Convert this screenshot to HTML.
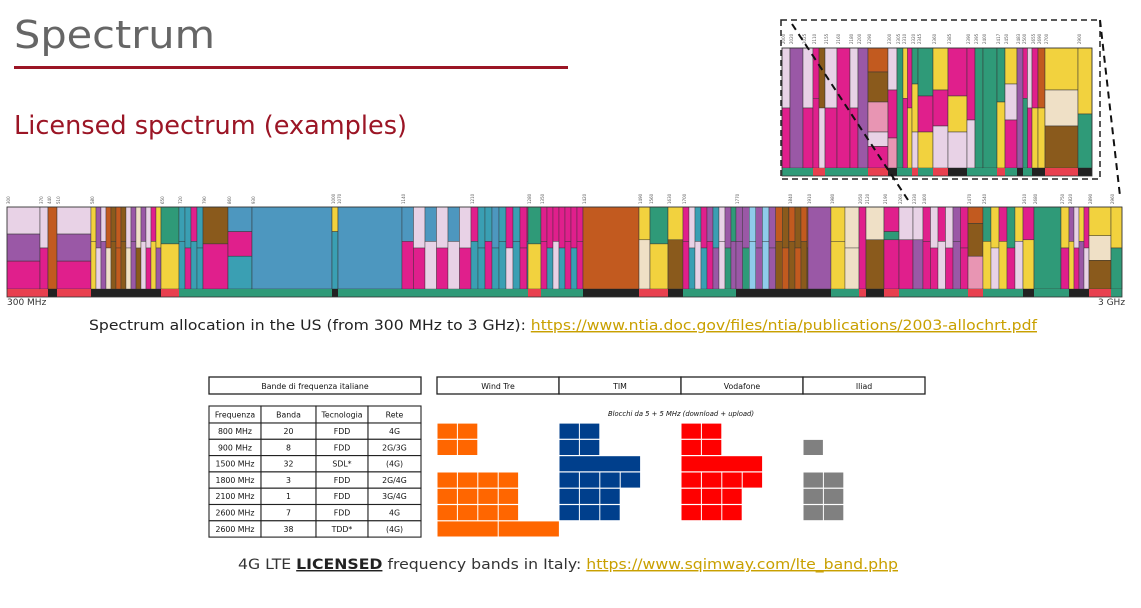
<!DOCTYPE html>
<html><head><meta charset="utf-8">
<style>
html,body{margin:0;padding:0;background:#fff;}
svg{display:block;}
text{font-family:"DejaVu Sans","Liberation Sans",sans-serif;}
</style></head>
<body>
<svg id="s" width="1141" height="608" viewBox="0 0 1141 608" xmlns="http://www.w3.org/2000/svg">
<text x="14" y="48" font-size="38" fill="#666" textLength="201" lengthAdjust="spacingAndGlyphs">Spectrum</text>
<rect x="14" y="66" width="554" height="3" fill="#9b1525"/>
<text x="14" y="134" font-size="26" fill="#9b1525" textLength="393" lengthAdjust="spacingAndGlyphs">Licensed spectrum (examples)</text>
<g id="main"></g>
<g id="inset"></g>
<text x="7" y="305" font-size="9" fill="#333">300 MHz</text>
<text x="1098" y="305" font-size="9" fill="#333">3 GHz</text>
<text x="89" y="330" font-size="14.5" fill="#222" textLength="948" lengthAdjust="spacingAndGlyphs">Spectrum allocation in the US (from 300 MHz to 3 GHz): <tspan fill="#c9a000" text-decoration="underline">https://www.ntia.doc.gov/files/ntia/publications/2003-allochrt.pdf</tspan></text>
<g id="tbl"></g>
<g id="blk"></g>
<text x="238" y="569" font-size="14.5" fill="#333" textLength="660" lengthAdjust="spacingAndGlyphs">4G LTE <tspan font-weight="bold" text-decoration="underline" fill="#222">LICENSED</tspan> frequency bands in Italy: <tspan fill="#c9a000" text-decoration="underline">https://www.sqimway.com/lte_band.php</tspan></text>
</svg>
<script>
const NS='http://www.w3.org/2000/svg';
function mk(p,t,a){const e=document.createElementNS(NS,t);for(const k in a)e.setAttribute(k,a[k]);p.appendChild(e);return e;}
const C={L:'#e8d2e6',P:'#9a58a6',M:'#e01f8c',O:'#c25a1f',T:'#3a9fb3',S:'#4d97bf',G:'#2f9a78',Y:'#f2d23e',B:'#8a5a1c',E:'#efe0c6',K:'#e895b3',U:'#8fcbeb',R:'#e8404f',X:'#222'};
const mainSegs=[
[7,40,'L.33 P.33 M.34','R'],[40,48,'L.5 M.5','R'],[48,57,'O1','X'],[57,91,'L.33 P.33 M.34','R'],
[91,161,'*YPLOBOBLPEPLMY|YLPEBOBEPBLMYP|5','X'],[161,179,'G.45 Y.55','R'],[179,203,'*TTMT|TMTT|6','G'],
[203,228,'B.45 M.55','G'],[228,252,'S.3 M.3 T.4','G'],[252,332,'S1','G'],[332,338,'Y.3 T.7','X'],[338,402,'S1','G'],
[402,471,'*SLSLSL|MMLMLM|11.5','G'],[471,528,'*MTTSTMTM|TTMTTLTM|7','G'],[528,541,'G.45 Y.55','R'],
[541,583,'*MMMMMMM|MTLTMTM|6','G'],[583,639,'O1','X'],[639,650,'Y.4 E.6','R'],[650,668,'G.45 Y.55','R'],[668,683,'Y.4 B.6','X'],
[683,736,'*MLTMPTLPG|MTLTMPLGP|6','G'],[736,789,'*PPUPUPOB|PGUPUPBO|6.6','X'],[789,808,'*OBO|BOB|6','X'],[808,831,'P1','X'],
[831,859,'*YE|YE|14','G'],[859,866,'M1','R'],[866,884,'E.4 B.6','X'],[884,899,'M.3 G.1 M.6','R'],[899,913,'L.4 M.6','G'],[913,923,'L.4 P.6','G'],
[923,968,'*MLMLPM|MMLMPM|7.5','G'],[968,983,'O.2 B.4 K.4','R'],[983,1023,'*GYMGY|YLYML|8','G'],[1023,1034,'M.4 Y.6','X'],
[1034,1061,'G1','G'],[1061,1069,'Y.5 M.5','G'],[1069,1089,'*PLYM|YMPL|5','X'],[1089,1111,'Y.35 E.3 B.35','R'],[1111,1122,'Y.5 G.5','G']];
const insetSegs=[
[782,790,'L.5 M.5','G'],[790,803,'P1','G'],[803,813,'L.5 M.5','G'],[813,825,'*MBGL|MLBM|6','R'],[825,837,'L.5 M.5','G'],
[837,850,'M1','G'],[850,858,'L.5 M.5','G'],[858,868,'P1','G'],[868,888,'O.2 B.25 K.25 L.12 M.18','R'],[888,897,'L.35 M.4 K.25','X'],
[897,903,'G1','G'],[903,912,'*YML|MYL|4.5','G'],[912,918,'G.3 Y.4 L.3','R'],[918,933,'G.4 M.3 Y.3','G'],[933,948,'Y.35 M.3 L.35','R'],
[948,967,'M.4 Y.3 L.3','X'],[967,975,'M.6 L.4','G'],[975,983,'G1','G'],[983,997,'G1','G'],[997,1005,'G.45 Y.55','R'],
[1005,1017,'Y.3 L.3 M.4','G'],[1017,1023,'P1','X'],[1023,1032,'*MLG|GML|4.5','G'],[1032,1038,'M.5 Y.5','X'],[1038,1045,'O.5 Y.5','X'],
[1045,1078,'Y.35 E.3 B.35','R'],[1078,1092,'Y.55 G.45','X']];
function drawSpec(g,segs,y0,y1,ys,ye,labY,labs){
  segs.forEach((s,i)=>{
    const [x0,x1,spec,strip]=s;const h=ys-y0;
    if(spec[0]==='*'){const [t,b,w]=spec.slice(1).split('|');const ww=parseFloat(w);let k=0;
      for(let x=x0;x<x1-0.1;x+=ww,k++){const cw=Math.min(ww,x1-x);const sp=(k%2)?0.5:0.42;
        const r1=mk(g,'rect',{x:x,y:y0,width:cw,height:h*sp,fill:C[t[k%t.length]],stroke:'#333','stroke-width':0.4});
        
        
        const r2=mk(g,'rect',{x:x,y:y0+h*sp,width:cw,height:h*(1-sp),fill:C[b[k%b.length]],stroke:'#333','stroke-width':0.4});
        
        }
    }else{let y=y0;spec.split(' ').forEach(p=>{const c=p[0],f=parseFloat(p.slice(1));
        const r=mk(g,'rect',{x:x0,y:y,width:x1-x0,height:h*f,fill:C[c],stroke:'#333','stroke-width':0.5});
        
        
        y+=h*f;});}
    const st=mk(g,'rect',{x:x0,y:ys,width:x1-x0,height:ye-ys,fill:C[strip]});
    
    
    const tx=mk(g,'text',{x:0,y:0,'font-size':4,fill:'#555',transform:`translate(${x0+3},${labY}) rotate(-90)`});
    tx.textContent=labs?labs[i]:String(300+i*70);
    
    
  });
  mk(g,'rect',{x:segs[0][0],y:y0,width:segs[segs.length-1][1]-segs[0][0],height:ye-y0,fill:'none',stroke:'#333','stroke-width':0.8});
}
const insetLabs=['2000','2020','2025','2110','2155','2160','2180','2200','2290','2300','2305','2310','2320','2345','2360','2385','2390','2395','2400','2417','2450','2483','2500','2655','2690','2700','2900'];
const ig=document.getElementById('inset');
const ib=mk(ig,'rect',{x:781,y:20,width:319,height:159,fill:'#fff',stroke:'#222','stroke-width':1.5,'stroke-dasharray':'6,4'});


drawSpec(document.getElementById('main'),mainSegs,207,289,289,297,204);
drawSpec(ig,insetSegs,48,168,168,176,44,insetLabs);
[[792,24,908,200],[1100,20,1120,196]].forEach(l=>{const e=mk(ig,'line',{x1:l[0],y1:l[1],x2:l[2],y2:l[3],stroke:'#111','stroke-width':2,'stroke-dasharray':'7,5'});
 
 });

const tbl=document.getElementById('tbl');
const freqs=['800 MHz','900 MHz','1500 MHz','1800 MHz','2100 MHz','2600 MHz','2600 MHz'];
const bands=['20','8','32','3','1','7','38'];
const techs=['FDD','FDD','SDL*','FDD','FDD','FDD','TDD*'];
const nets=['4G','2G/3G','(4G)','2G/4G','3G/4G','4G','(4G)'];
const heads=['Frequenza','Banda','Tecnologia','Rete'];
const colX=[209,261,316,368,421];const rowY0=406,hdrH=17,rowH=16.3;
function cellText(g,x,y,t,s,w,it,nm){const e=mk(g,'text',{x:x,y:y,'font-size':s,'text-anchor':'middle',fill:'#111','font-weight':w||'normal','font-family':'Liberation Sans, sans-serif'});if(it)e.setAttribute('font-style','italic');e.textContent=t;
 
 }
const hb=mk(tbl,'rect',{x:209,y:377,width:212,height:17,fill:'#fff',stroke:'#222','stroke-width':1.3});
cellText(tbl,315,389,'Bande di frequenza italiane',7.8,'normal',false,'table-title');
const rowsAll=[heads].concat(freqs.map((f,i)=>[f,bands[i],techs[i],nets[i]]));
rowsAll.forEach((r,ri)=>{const y=ri===0?rowY0:rowY0+hdrH+(ri-1)*rowH;const h=ri===0?hdrH:rowH;
  r.forEach((t,ci)=>{mk(tbl,'rect',{x:colX[ci],y:y,width:colX[ci+1]-colX[ci],height:h,fill:'#fff',stroke:'#222','stroke-width':1.1});
  cellText(tbl,(colX[ci]+colX[ci+1])/2,y+h/2+2.8,t,7.8,'normal',false,ri===0?'table-header-cell':'table-cell');});});

const blk=document.getElementById('blk');
const operators=['Wind Tre','TIM','Vodafone','Iliad'];
const opColors=['#ff6600','#003f8c','#ff0000','#808080'];
const windTre=[[1,1],[1,1],[],[1,1,1,1],[1,1,1,1],[1,1,1,1],[3,3]];
const tim=[[1,1],[1,1],[4],[1,1,1,1],[1,1,1],[1,1,1],[]];
const vodafone=[[1,1],[1,1],[4],[1,1,1,1],[1,1,1],[1,1,1],[]];
const iliad=[[],[1],[],[1,1],[1,1],[1,1],[]];
const opData=[windTre,tim,vodafone,iliad];
const opX=[437,559,681,803,925];const cellW=20.4;
operators.forEach((o,i)=>{const r=mk(blk,'rect',{x:opX[i],y:377,width:opX[i+1]-opX[i],height:17,fill:'#fff',stroke:'#222','stroke-width':1.3});
 
 
 cellText(blk,(opX[i]+opX[i+1])/2,389,o,7.8,'normal',false,'operator-name');});
cellText(blk,681,416,'Blocchi da 5 + 5 MHz (download + upload)',6.8,'normal',true,'blocks-note');
opData.forEach((rows,oi)=>{rows.forEach((row,ri)=>{let x=opX[oi];const y=rowY0+hdrH+ri*rowH;
  row.forEach(n=>{const r=mk(blk,'rect',{x:x+0.5,y:y+0.6,width:n*cellW-1,height:rowH-1.2,fill:opColors[oi]});
   
   
   x+=n*cellW;});});});
</script>
</body></html>
